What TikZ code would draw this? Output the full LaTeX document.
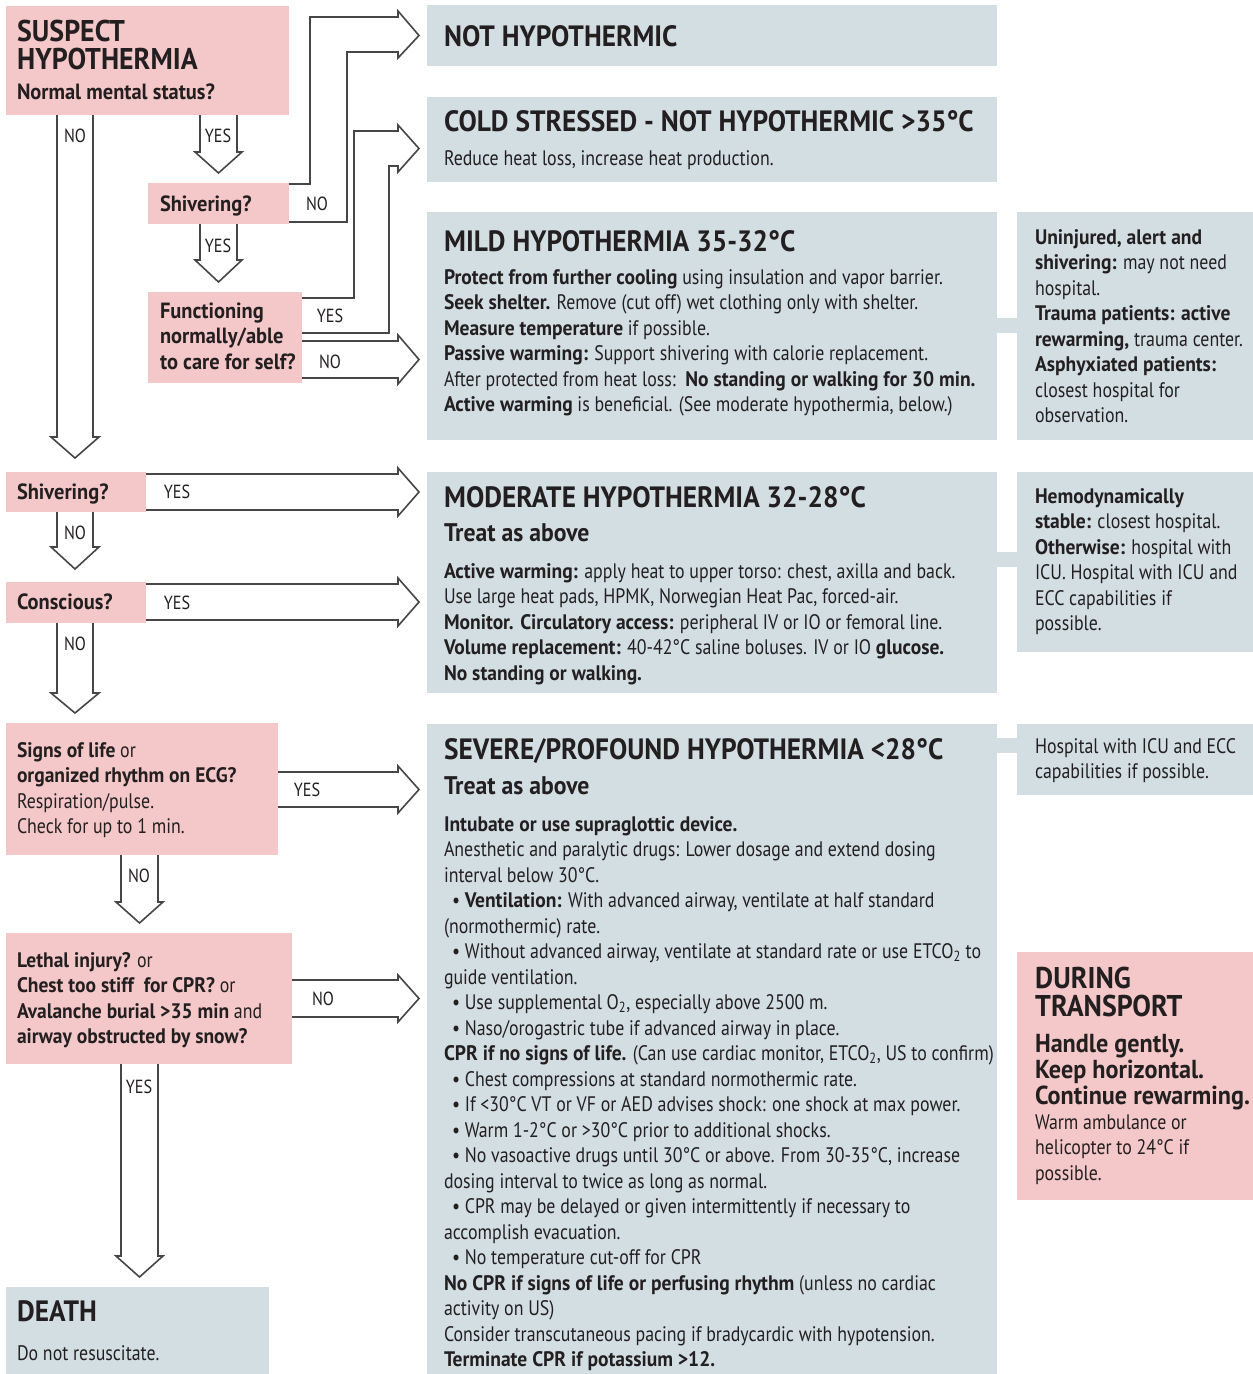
\documentclass[tikz,border=0pt]{standalone}
\usepackage{fontspec}
\setmainfont{PT Sans}[UprightFeatures={FakeStretch=0.85}, BoldFeatures={FakeStretch=0.93}]
\usetikzlibrary{calc}
\definecolor{pinkbox}{RGB}{244,199,201}
\definecolor{graybox}{RGB}{211,222,227}
\definecolor{ink}{RGB}{35,31,32}
\definecolor{arrline}{RGB}{70,70,70}
\newcommand\firststrut{\rule{0pt}{17pt}}
\newcommand\bigstrut{\rule{0pt}{24pt}}
\tikzset{
  box/.style={draw=none, inner sep=0pt, outer sep=0pt, anchor=north west},
  pbox/.style={box, fill=pinkbox},
  gbox/.style={box, fill=graybox},
  body/.style={anchor=north west, inner sep=0pt, outer sep=0pt, align=left, text=ink,
    font=\fontsize{21}{25.5}\selectfont},
  qbody/.style={body, font=\fontsize{22}{25.5}\selectfont\bfseries},
  ttl/.style={anchor=base west, inner sep=0pt, text=ink, font=\fontsize{29.4}{30}\selectfont\bfseries},
  ttlblock/.style={anchor=north west, inner sep=0pt, align=left, text=ink,
    font=\fontsize{30}{28}\selectfont\bfseries},
  sub/.style={anchor=base west, inner sep=0pt, text=ink, font=\fontsize{25.5}{25.5}\selectfont\bfseries},
  lbl/.style={anchor=center, inner sep=0pt, text=ink, font=\fontsize{19}{19}\selectfont},
  arr/.style={draw=arrline, line width=1.6pt, line join=miter},
}
% down arrow: start (left shaft top), shaft width, shaft length, head extra, head length
\newcommand\darr[5]{\draw[arr] (#1) -- ++(0,#3) -- ++(-#4,0) -- ++({#2/2+#4},#5) -- ++({#2/2+#4},-#5) -- ++(-#4,0) -- ++(0,-#3);}
% right arrow: start (upper shaft line start), shaft width, shaft length, head extra, head length
\newcommand\rarr[5]{\draw[arr] (#1) -- ++(#3,0) -- ++(0,-#4) -- ++(#5,{#2/2+#4}) -- ++(-#5,{#2/2+#4}) -- ++(0,-#4) -- ++(-#3,0);}
\begin{document}
\begin{tikzpicture}[x=1pt,y=-1pt]
\useasboundingbox (0,0) rectangle (1253,1374);
\fill[white] (0,0) rectangle (1253,1374);

% ---------- boxes ----------
\node[pbox, minimum width=283, minimum height=109] (susp) at (6,6) {};
\node[pbox, minimum width=141, minimum height=41] (shiv1) at (148,183) {};
\node[pbox, minimum width=154, minimum height=91] (func) at (148,292) {};
\node[pbox, minimum width=140, minimum height=40] (shiv2) at (6,472) {};
\node[pbox, minimum width=140, minimum height=41] (consc) at (6,582) {};
\node[pbox, minimum width=272, minimum height=132] (signs) at (6,723) {};
\node[pbox, minimum width=286, minimum height=131] (lethal) at (6,933) {};
\node[gbox, minimum width=263, minimum height=87] (death) at (6,1287) {};

\node[gbox, minimum width=570, minimum height=61] (nothyp) at (427,5) {};
\node[gbox, minimum width=570, minimum height=85] (cold) at (427,97) {};
\node[gbox, minimum width=570, minimum height=228] (mild) at (427,212) {};
\node[gbox, minimum width=570, minimum height=221] (mod) at (427,472) {};
\node[gbox, minimum width=570, minimum height=650] (sev) at (427,724) {};

\node[gbox, minimum width=236, minimum height=228] (side1) at (1017,212) {};
\node[gbox, minimum width=236, minimum height=180] (side2) at (1017,472) {};
\node[gbox, minimum width=236, minimum height=71] (side3) at (1017,724) {};
\node[pbox, minimum width=236, minimum height=248] (transp) at (1017,952) {};

% side connectors
\fill[graybox] (mild.east |- 0,318) rectangle (side1.west |- 0,333);
\fill[graybox] (mod.east |- 0,552) rectangle (side2.west |- 0,567);
\fill[graybox] (sev.east |- 0,738) rectangle (side3.west |- 0,753);

% ---------- left column texts ----------
\node[ttlblock] (susptxt) at (17,{41-24}) {\bigstrut SUSPECT\\HYPOTHERMIA};
\node[qbody] (susptxt2) at (17,{99-17}) {\firststrut Normal mental status?};
\node[qbody] (shiv1txt) at (160,{211-17}) {\firststrut Shivering?};
\node[qbody] (functxt) at (160,{318-17}) {\firststrut Functioning\\normally/able\\to care for self?};
\node[qbody] (shiv2txt) at (17,{499-17}) {\firststrut Shivering?};
\node[qbody] (consctxt) at (17,{609-17}) {\firststrut Conscious?};
\node[body] (signstxt) at (17,{757-17}) {\firststrut\textbf{Signs of life} or\\
\textbf{organized rhythm on ECG?}\\
Respiration/pulse.\\
Check for up to 1 min.};
\node[body] (lethaltxt) at (17,{967-17}) {\firststrut\textbf{Lethal injury?} or\\
\textbf{Chest too stiff\ \ for CPR?} or\\
\textbf{Avalanche burial >35 min} and\\
\textbf{airway obstructed by snow?}};
\node[ttl] (deathttl) at (17,1321) {DEATH};
\node[body] (deathtxt) at (17,{1360-17}) {\firststrut Do not resuscitate.};

% ---------- middle column texts ----------
\node[ttl] (nothypttl) at (444,46) {NOT HYPOTHERMIC};
\node[ttl] (coldttl) at (444,131) {COLD STRESSED - NOT HYPOTHERMIC >35°C};
\node[body] (coldtxt) at (444,{165-17}) {\firststrut Reduce heat loss, increase heat production.};

\node[ttl] (mildttl) at (444,251) {MILD HYPOTHERMIA 35-32°C};
\node[body] (mildtxt) at (444,{284-17}) {\firststrut\textbf{Protect from further cooling} using insulation and vapor barrier.\\
\textbf{Seek shelter.} Remove (cut off) wet clothing only with shelter.\\
\textbf{Measure temperature} if possible.\\
\textbf{Passive warming:} Support shivering with calorie replacement.\\
After protected from heat loss:\ \ \textbf{No standing or walking for 30 min.}\\
\textbf{Active warming} is beneficial. (See moderate hypothermia, below.)};

\node[ttl] (modttl) at (444,507) {MODERATE HYPOTHERMIA 32-28°C};
\node[sub] (modsub) at (444,541) {Treat as above};
\node[body] (modtxt) at (444,{578-17}) {\firststrut\textbf{Active warming:} apply heat to upper torso: chest, axilla and back.\\
Use large heat pads, HPMK, Norwegian Heat Pac, forced-air.\\
\textbf{Monitor. Circulatory access:} peripheral IV or IO or femoral line.\\
\textbf{Volume replacement:} 40-42°C saline boluses. IV or IO \textbf{glucose.}\\
\textbf{No standing or walking.}};

\node[ttl] (sevttl) at (444,759) {SEVERE/PROFOUND HYPOTHERMIA <28°C};
\node[sub] (sevsub) at (444,794) {Treat as above};
\node[body] (sevtxt) at (444,{831-17}) {\firststrut\textbf{Intubate or use supraglottic device.}\\
Anesthetic and paralytic drugs: Lower dosage and extend dosing\\
interval below 30°C.\\
\hspace*{8pt}• \textbf{Ventilation:} With advanced airway, ventilate at half standard\\
(normothermic) rate.\\
\hspace*{8pt}• Without advanced airway, ventilate at standard rate or use ETCO\textsubscript{2} to\\
guide ventilation.\\
\hspace*{8pt}• Use supplemental O\textsubscript{2}, especially above 2500 m.\\
\hspace*{8pt}• Naso/orogastric tube if advanced airway in place.\\
\textbf{CPR if no signs of life.} (Can use cardiac monitor, ETCO\textsubscript{2}, US to confirm)\\
\hspace*{8pt}• Chest compressions at standard normothermic rate.\\
\hspace*{8pt}• If <30°C VT or VF or AED advises shock: one shock at max power.\\
\hspace*{8pt}• Warm 1-2°C or >30°C prior to additional shocks.\\
\hspace*{8pt}• No vasoactive drugs until 30°C or above. From 30-35°C, increase\\
dosing interval to twice as long as normal.\\
\hspace*{8pt}• CPR may be delayed or given intermittently if necessary to\\
accomplish evacuation.\\
\hspace*{8pt}• No temperature cut-off for CPR\\
\textbf{No CPR if signs of life or perfusing rhythm} (unless no cardiac\\
activity on US)\\
Consider transcutaneous pacing if bradycardic with hypotension.\\
\textbf{Terminate CPR if potassium >12.}};

% ---------- right column texts ----------
\node[body] (side1txt) at (1035,{244-17}) {\firststrut\textbf{Uninjured, alert and}\\
\textbf{shivering:} may not need\\
hospital.\\
\textbf{Trauma patients: active}\\
\textbf{rewarming,} trauma center.\\
\textbf{Asphyxiated patients:}\\
closest hospital for\\
observation.};
\node[body] (side2txt) at (1035,{503-17}) {\firststrut\textbf{Hemodynamically}\\
\textbf{stable:} closest hospital.\\
\textbf{Otherwise:} hospital with\\
ICU. Hospital with ICU and\\
ECC capabilities if\\
possible.};
\node[body] (side3txt) at (1035,{753-17}) {\firststrut Hospital with ICU and ECC\\capabilities if possible.};
\node[ttlblock] (transpttl) at (1035,{988-24}) {\bigstrut DURING\\TRANSPORT};
\node[body, font=\fontsize{26}{26}\selectfont\bfseries] (transpsub) at (1035,{1052-20}) {\rule{0pt}{20pt}Handle gently.\\Keep horizontal.\\Continue rewarming.};
\node[body] (transptxt) at (1035,{1129-17}) {\firststrut Warm ambulance or\\helicopter to 24°C if\\possible.};

% ---------- arrows ----------
% down arrows
\darr{$(susp.south west)+(51,0)$}{36}{322}{6}{21}
\darr{$(susp.south west)+(194,0)$}{37}{37}{5}{21}
\darr{$(shiv1.south west)+(52,0)$}{37}{36}{5}{22}
\darr{$(shiv2.south west)+(51,0)$}{36}{35}{6}{22}
\darr{$(consc.south west)+(51,0)$}{36}{70}{6}{20}
\darr{$(signs.south west)+(115,0)$}{37}{47}{5}{21}
\darr{$(lethal.south west)+(115,0)$}{37}{192}{5}{21}
% straight right arrows
\rarr{$(func.north east)+(0,49)$}{37}{96}{6}{21}
\rarr{$(shiv2.north east)+(0,2)$}{36}{252}{6}{21}
\rarr{$(consc.north east)+(0,2)$}{36}{252}{6}{21}
\rarr{$(signs.north east)+(0,49)$}{35}{120}{6}{21}
\rarr{$(lethal.north east)+(0,47)$}{37}{106}{5}{21}
% bent arrow: Shivering NO -> NOT HYPOTHERMIC
\draw[arr] ($(shiv1.north east)+(0,1)$) -| (310,17) -- (398,17) -- (398,11) -- ($(nothyp.west)+(-8,0)$) -- (398,58) -- (398,52) -| (347,222) -- ($(shiv1.south east)+(0,-2)$);
% bent arrow: Functioning YES -> COLD STRESSED
\draw[arr] ($(func.north east)+(0,6)$) -| (354,131) -- (398,131) -- (398,125) -- (419,148.5) -- (398,172) -- (398,166) -| (389,333) -- ($(func.north east)+(0,41)$);

% ---------- arrow labels ----------
\node[lbl] (l1) at (75,136) {NO};
\node[lbl] (l2) at (218,136) {YES};
\node[lbl] (l3) at (317,204) {NO};
\node[lbl] (l4) at (218,246) {YES};
\node[lbl] (l5) at (330,316) {YES};
\node[lbl] (l6) at (330,362) {NO};
\node[lbl] (l7) at (177,492) {YES};
\node[lbl] (l8) at (75,533) {NO};
\node[lbl] (l9) at (177,603) {YES};
\node[lbl] (l10) at (75,644) {NO};
\node[lbl] (l11) at (307,790) {YES};
\node[lbl] (l12) at (139,876) {NO};
\node[lbl] (l13) at (323,999) {NO};
\node[lbl] (l14) at (139,1087) {YES};
\end{tikzpicture}
\end{document}
